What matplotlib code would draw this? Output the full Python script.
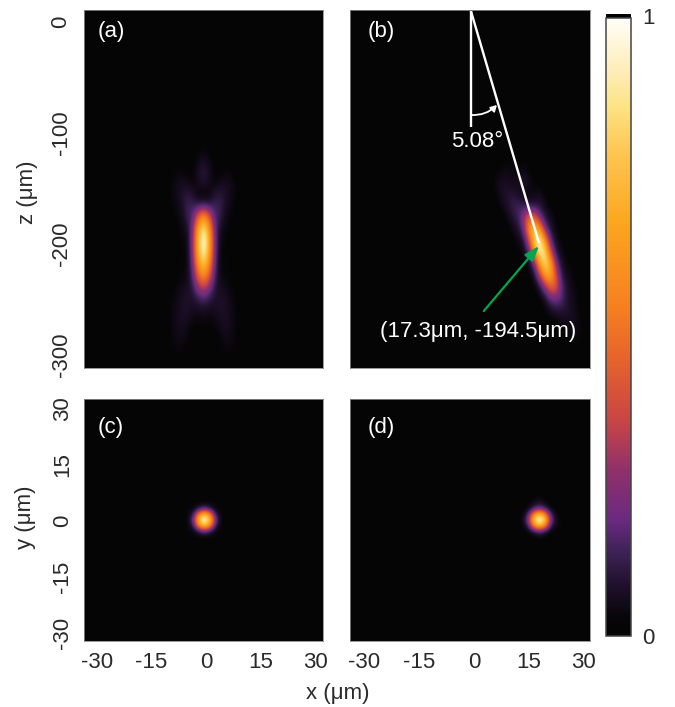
import numpy as np
import matplotlib
matplotlib.use("Agg")
import matplotlib.pyplot as plt
from matplotlib.colors import LinearSegmentedColormap
from matplotlib.patches import FancyArrowPatch, Rectangle
from matplotlib.transforms import ScaledTranslation

plt.rcParams['font.family'] = ['Liberation Sans', 'DejaVu Sans']
plt.rcParams['font.size'] = 16
plt.rcParams['axes.unicode_minus'] = False

W, H = 675, 707
TEXT = '#2a2a2a'

x_ticks = [-30, -15, 0, 15, 30]
y_ticks = [-30, -15, 0, 15, 30]
z_ticks = [-300, -200, -100, 0]
x_lim_left = (-33.5, 32.1)
x_lim_right = (-33.8, 31.7)
z_lim = (-311.7, 10.8)
y_lim = (-32.2, 32.7)

cmap_stops = [
    (0.000, '#050505'), (0.026, '#060507'), (0.079, '#1e0f2a'), (0.134, '#3c2255'),
    (0.187, '#6a2a80'), (0.268, '#90306a'), (0.349, '#c94545'), (0.457, '#e8662a'),
    (0.535, '#f68020'), (0.669, '#fba61f'), (0.777, '#fec44f'), (0.858, '#fde383'),
    (0.911, '#feecb5'), (0.992, '#fffdf2'), (1.000, '#ffffff'),
]
focus_cmap = LinearSegmentedColormap.from_list('focus', cmap_stops, N=512)

# Intensity
a_x = [-12.8, -11.3, -9.8, -8.3, -6.8, -5.3, -3.8, -2.3, -0.8, 0.7, 2.2, 3.7, 5.2, 6.7, 8.2, 9.7, 11.2]
a_z = [-103, -114, -124, -134, -145, -155, -165, -176, -186, -196, -206,
       -217, -227, -237, -248, -258, -268, -279, -289, -299, -310]
a_values = [
 [.00,.00,.00,.00,.00,.01,.01,.01,.02,.01,.01,.01,.00,.00,.00,.00,.00],
 [.00,.00,.00,.00,.01,.01,.01,.02,.03,.02,.01,.01,.01,.00,.00,.00,.00],
 [.00,.00,.00,.01,.02,.02,.02,.04,.06,.04,.02,.02,.02,.01,.00,.00,.00],
 [.00,.00,.01,.03,.03,.02,.02,.07,.10,.07,.02,.02,.03,.03,.01,.00,.00],
 [.00,.01,.03,.05,.06,.05,.03,.06,.09,.06,.03,.05,.06,.05,.03,.01,.00],
 [.00,.01,.03,.05,.08,.10,.08,.03,.02,.03,.08,.10,.08,.05,.03,.01,.00],
 [.00,.01,.03,.04,.07,.13,.13,.10,.12,.10,.13,.13,.07,.04,.03,.01,.00],
 [.00,.00,.02,.03,.05,.12,.16,.42,.60,.42,.16,.12,.05,.03,.02,.00,.00],
 [.00,.00,.01,.02,.04,.07,.21,.62,.88,.62,.21,.07,.04,.02,.01,.00,.00],
 [.00,.00,.01,.01,.03,.04,.23,.72,1.0,.72,.23,.04,.03,.01,.01,.00,.00],
 [.00,.00,.01,.01,.03,.03,.23,.70,.97,.70,.23,.03,.03,.01,.01,.00,.00],
 [.00,.00,.01,.02,.03,.03,.20,.60,.82,.60,.20,.03,.03,.02,.01,.00,.00],
 [.00,.00,.01,.02,.03,.04,.16,.46,.62,.46,.16,.04,.03,.02,.01,.00,.00],
 [.00,.01,.02,.03,.05,.06,.11,.28,.38,.28,.11,.06,.05,.03,.02,.01,.00],
 [.00,.01,.03,.04,.07,.08,.08,.13,.17,.13,.08,.08,.07,.04,.03,.01,.00],
 [.00,.01,.03,.05,.07,.08,.06,.06,.07,.06,.06,.08,.07,.05,.03,.01,.00],
 [.00,.01,.03,.05,.07,.06,.04,.03,.04,.03,.04,.06,.07,.05,.03,.01,.00],
 [.00,.01,.03,.05,.06,.04,.02,.02,.02,.02,.02,.04,.06,.05,.03,.01,.00],
 [.00,.01,.03,.04,.04,.03,.01,.01,.01,.01,.01,.03,.04,.04,.03,.01,.00],
 [.00,.01,.02,.03,.03,.01,.00,.00,.00,.00,.00,.01,.03,.03,.02,.01,.00],
 [.00,.00,.01,.01,.01,.00,.00,.00,.00,.00,.00,.00,.01,.01,.01,.00,.00],
]

b_x = [3, 4.5, 6, 7.5, 9, 10.5, 12, 13.5, 15, 16.5, 18, 19.5, 21, 22.5, 24, 25.5, 27, 28.5, 30]
b_z = a_z
b_values = [
 [.00,.00,.00,.00,.00,.00,.00,.00,.00,.00,.00,.00,.00,.00,.00,.00,.00,.00,.00],
 [.00,.00,.00,.00,.01,.01,.01,.01,.00,.00,.00,.00,.00,.00,.00,.00,.00,.00,.00],
 [.00,.00,.01,.01,.02,.02,.02,.02,.02,.00,.00,.00,.00,.00,.00,.00,.00,.00,.00],
 [.00,.00,.02,.04,.05,.04,.03,.05,.03,.01,.00,.00,.00,.00,.00,.00,.00,.00,.00],
 [.00,.01,.05,.06,.06,.05,.06,.09,.06,.02,.01,.00,.00,.00,.00,.00,.00,.00,.00],
 [.00,.00,.03,.07,.09,.09,.06,.04,.03,.05,.06,.02,.00,.00,.00,.00,.00,.00,.00],
 [.00,.00,.01,.04,.08,.12,.14,.10,.08,.08,.09,.05,.01,.00,.00,.00,.00,.00,.00],
 [.00,.00,.00,.01,.04,.09,.13,.25,.44,.39,.18,.08,.06,.02,.00,.00,.00,.00,.00],
 [.00,.00,.00,.00,.01,.05,.08,.20,.60,.80,.55,.17,.07,.03,.01,.00,.00,.00,.00],
 [.00,.00,.00,.00,.00,.02,.05,.08,.36,.84,.94,.53,.14,.06,.02,.00,.00,.00,.00],
 [.00,.00,.00,.00,.00,.01,.02,.05,.16,.62,.99,.81,.30,.07,.05,.02,.01,.00,.00],
 [.00,.00,.00,.00,.00,.00,.01,.02,.05,.22,.68,.90,.62,.18,.06,.03,.02,.00,.00],
 [.00,.00,.00,.00,.00,.00,.00,.01,.02,.08,.36,.69,.68,.33,.09,.05,.03,.01,.00],
 [.00,.00,.00,.00,.00,.00,.00,.00,.01,.03,.10,.31,.49,.40,.15,.07,.04,.02,.00],
 [.00,.00,.00,.00,.00,.00,.00,.00,.00,.01,.03,.09,.21,.24,.16,.08,.05,.03,.01],
 [.00,.00,.00,.00,.00,.00,.00,.00,.00,.00,.01,.03,.08,.10,.10,.08,.06,.03,.01],
 [.00,.00,.00,.00,.00,.00,.00,.00,.00,.00,.00,.01,.02,.03,.06,.06,.06,.04,.02],
 [.00,.00,.00,.00,.00,.00,.00,.00,.00,.00,.00,.00,.01,.01,.02,.03,.05,.04,.02],
 [.00,.00,.00,.00,.00,.00,.00,.00,.00,.00,.00,.00,.00,.00,.01,.02,.03,.03,.02],
 [.00,.00,.00,.00,.00,.00,.00,.00,.00,.00,.00,.00,.00,.00,.00,.01,.01,.02,.01],
 [.00,.00,.00,.00,.00,.00,.00,.00,.00,.00,.00,.00,.00,.00,.00,.00,.00,.01,.01],
]

c_x = [-8.0, -6.5, -5.0, -3.5, -2.0, -0.5, 1.0, 2.5, 4.0, 5.5, 7.0]
c_y = [7.8, 6.3, 4.8, 3.3, 1.8, 0.3, -1.2, -2.7, -4.2, -5.7, -7.2]
c_values = [
 [.00,.00,.00,.00,.00,.00,.00,.00,.00,.00,.00],
 [.00,.00,.00,.01,.01,.02,.01,.01,.00,.00,.00],
 [.00,.00,.02,.04,.03,.03,.03,.04,.02,.00,.00],
 [.00,.01,.04,.02,.10,.20,.10,.02,.04,.01,.00],
 [.00,.01,.03,.10,.55,.78,.55,.10,.03,.01,.00],
 [.00,.02,.03,.20,.78,1.0,.78,.20,.03,.02,.00],
 [.00,.01,.03,.10,.55,.78,.55,.10,.03,.01,.00],
 [.00,.01,.04,.02,.10,.20,.10,.02,.04,.01,.00],
 [.00,.00,.02,.04,.03,.03,.03,.04,.02,.00,.00],
 [.00,.00,.00,.01,.01,.02,.01,.01,.00,.00,.00],
 [.00,.00,.00,.00,.00,.00,.00,.00,.00,.00,.00],
]

d_x = [10.3, 11.8, 13.3, 14.8, 16.3, 17.8, 19.3, 20.8, 22.3, 23.8, 25.3]
d_y = c_y
d_values = [
 [.00,.00,.00,.00,.01,.02,.01,.00,.00,.00,.00],
 [.00,.00,.00,.01,.02,.04,.02,.01,.00,.00,.00],
 [.00,.00,.01,.02,.06,.08,.05,.02,.01,.00,.00],
 [.00,.00,.02,.04,.14,.23,.14,.04,.02,.01,.00],
 [.00,.01,.03,.14,.57,.80,.57,.14,.04,.02,.01],
 [.00,.02,.04,.23,.81,1.0,.81,.23,.05,.03,.01],
 [.00,.01,.03,.12,.55,.77,.55,.12,.04,.03,.01],
 [.00,.00,.02,.03,.10,.18,.10,.03,.02,.02,.00],
 [.00,.00,.01,.02,.03,.04,.03,.02,.01,.00,.00],
 [.00,.00,.00,.00,.01,.02,.01,.00,.00,.00,.00],
 [.00,.00,.00,.00,.00,.00,.00,.00,.00,.00,.00],
]

line_x, line_top_z, vertical_end_z = -0.8, 9.9, -94.6
line_end = (17.76, -199.0)
arrow_tip = (17.76, -201.8)
arrow_start = (2.7, -260.4)
angle_label = "5.08°"
peak_label = "(17.3μm, -194.5μm)"


def box(x0, y0, x1, y1):
    return [x0 / W, 1 - y1 / H, (x1 - x0) / W, (y1 - y0) / H]


fig = plt.figure(figsize=(W / 100, H / 100), dpi=100, facecolor='white')
BG = focus_cmap(0.0)


def panel(rect, xs, ys, vals, xlim, ylim, label, label_pos):
    ax = fig.add_axes(box(*rect), facecolor=BG)
    xs, ys = np.array(xs, float), np.array(ys, float)
    dx = (xs[-1] - xs[0]) / (len(xs) - 1)
    dy = (ys[-1] - ys[0]) / (len(ys) - 1)
    ax.imshow(np.array(vals), cmap=focus_cmap, vmin=0, vmax=1, aspect='auto',
              interpolation='bicubic', origin='upper',
              extent=[xs[0] - dx / 2, xs[-1] + dx / 2, ys[-1] + dy / 2, ys[0] - dy / 2])
    ax.set_xlim(*xlim)
    ax.set_ylim(*ylim)
    ax.tick_params(length=0, labelsize=16, labelcolor=TEXT)
    for s in ax.spines.values():
        s.set_color('#888888')
        s.set_linewidth(0.6)
    ax.text(label_pos[0], label_pos[1], label, color='white', fontsize=16,
            transform=ax.transAxes, ha='center', va='center')
    return ax


ax_a = panel((84, 10, 323, 368), a_x, a_z, a_values, x_lim_left, z_lim, '(a)', (0.113, 0.939))
ax_b = panel((350, 10, 590, 368), b_x, b_z, b_values, x_lim_right, z_lim, '(b)', (0.129, 0.939))
ax_c = panel((84, 399, 323, 641), c_x, c_y, c_values, x_lim_left, y_lim, '(c)', (0.113, 0.884))
ax_d = panel((350, 399, 590, 641), d_x, d_y, d_values, x_lim_right, y_lim, '(d)', (0.129, 0.884))

ax_a.set_xticks([])
ax_a.set_yticks(z_ticks)
ax_a.set_yticklabels([str(v) for v in z_ticks], rotation=90, va='center')
ax_a.tick_params(axis='y', pad=9)
ax_b.set_xticks([])
ax_b.set_yticks([])
ax_c.set_xticks(x_ticks)
ax_c.set_yticks(y_ticks)
ax_c.set_yticklabels([str(v) for v in y_ticks], rotation=90, va='center')
ax_c.tick_params(axis='y', pad=8)
ax_c.tick_params(axis='x', pad=8)
ax_d.set_xticks(x_ticks)
ax_d.set_yticks([])
ax_d.tick_params(axis='x', pad=8)

fig.text(338 / W, 1 - 693 / H, 'x (μm)', ha='center', va='center', fontsize=16, color=TEXT)
fig.text(28 / W, 1 - 192 / H, 'z (μm)', ha='center', va='center', rotation=90, fontsize=16, color=TEXT)
fig.text(26 / W, 1 - 517 / H, 'y (μm)', ha='center', va='center', rotation=90, fontsize=16, color=TEXT)

# Annotations on panel (b)
ax_b.plot([line_x, line_x], [line_top_z, vertical_end_z], color='white', lw=1.7, solid_capstyle='butt')
ax_b.plot([line_x, line_end[0]], [line_top_z, line_end[1]], color='white', lw=1.7, solid_capstyle='butt')
ax_b.add_patch(FancyArrowPatch((line_x, -83.8), (6.3, -74.8), connectionstyle='arc3,rad=0.22',
                               arrowstyle='-|>,head_length=3.5,head_width=2',
                               color='white', lw=1.3, shrinkA=0, shrinkB=0))
ax_b.text(0.8, -108, angle_label, color='white', fontsize=16, ha='center', va='center')
ax_b.annotate('', xy=arrow_tip, xytext=arrow_start,
              arrowprops=dict(arrowstyle='-|>,head_length=0.55,head_width=0.2', color='#00a651', lw=1.6,
                              shrinkA=0, shrinkB=0))
ax_b.text(1.1, -278.4, peak_label, color='white', fontsize=16, ha='center', va='center')

# Colour bar
cax = fig.add_axes(box(606, 18, 631, 636))
sm = plt.cm.ScalarMappable(norm=plt.Normalize(0, 1), cmap=focus_cmap)
cb = fig.colorbar(sm, cax=cax, ticks=[0, 1])
cb.ax.tick_params(length=0, pad=8, labelsize=16, labelcolor=TEXT)
cb.outline.set_edgecolor('#444444')
cb.outline.set_linewidth(1.1)
cax.add_patch(Rectangle((0, 1), 1, 4 / 618, transform=cax.transAxes, facecolor='black',
                        edgecolor='none', clip_on=False))
top_label = cax.get_yticklabels()[-1]
top_label.set_transform(top_label.get_transform() + ScaledTranslation(0, 2 / 100, fig.dpi_scale_trans))

fig.savefig('out.png', dpi=100, facecolor='white')
